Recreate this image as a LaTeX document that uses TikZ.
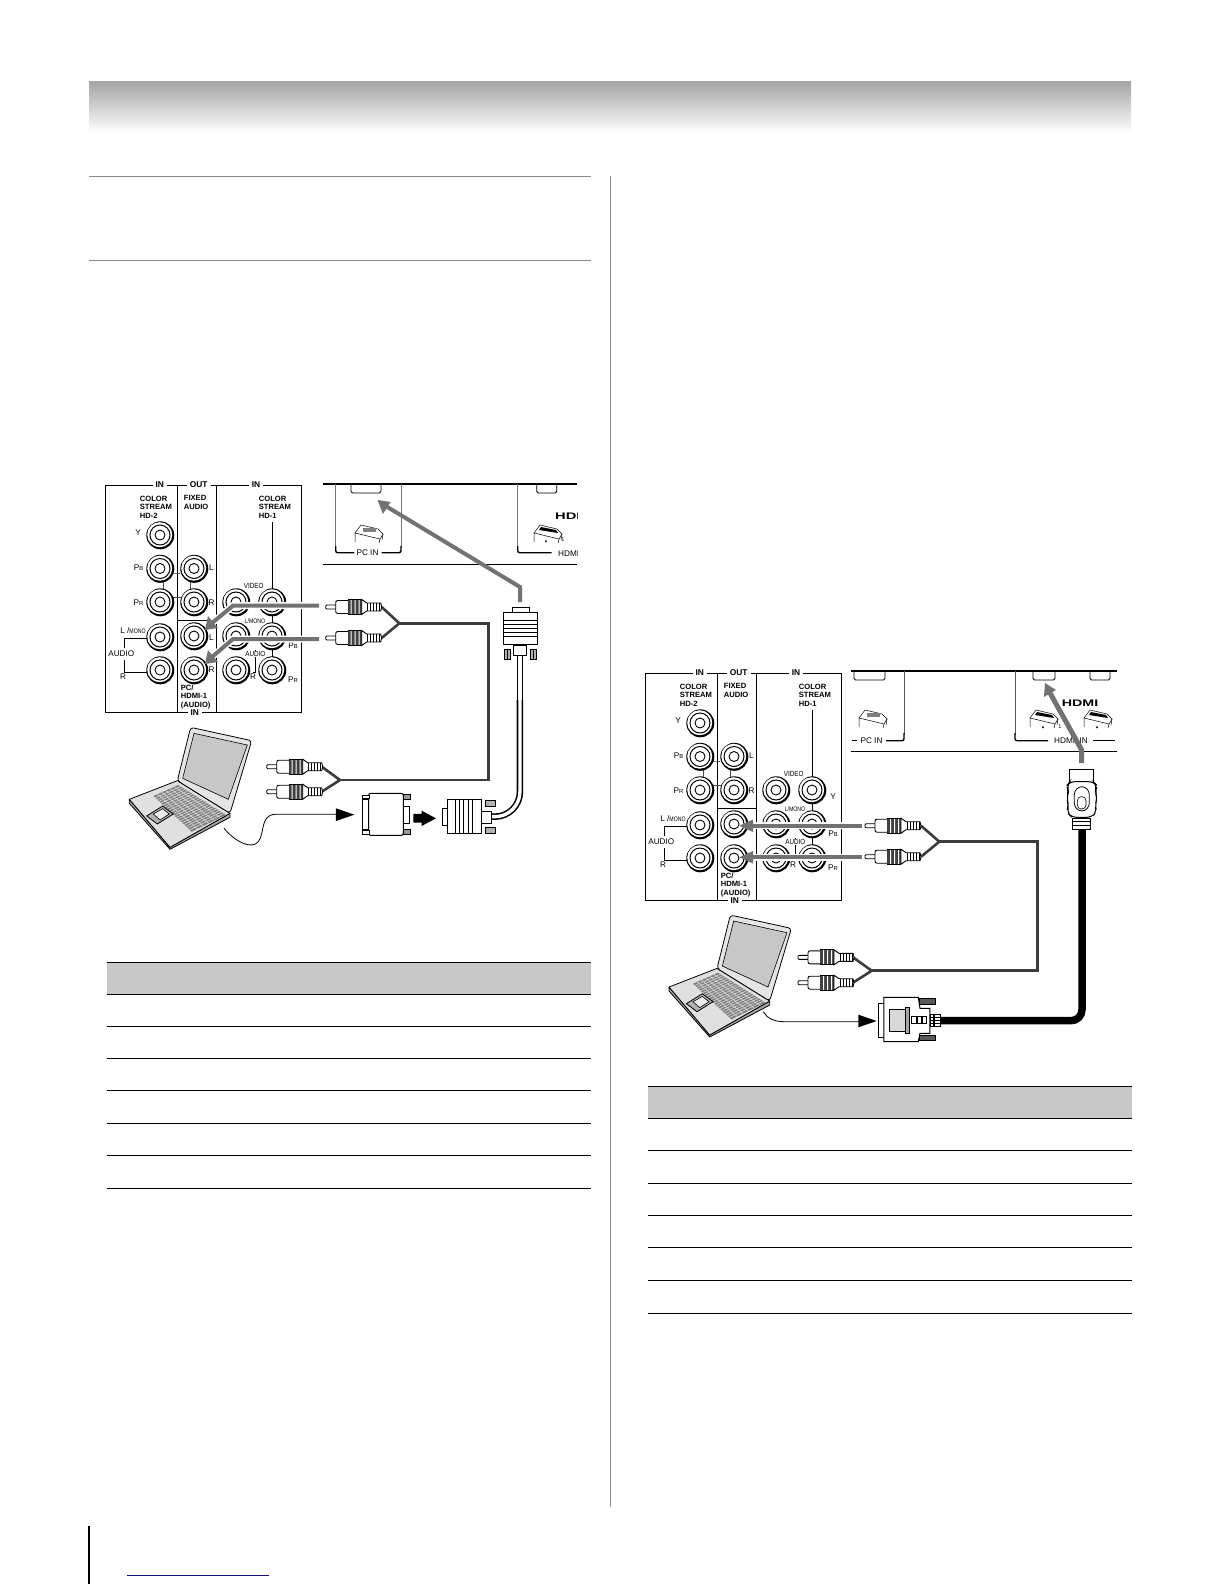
\documentclass[tikz,border=0pt]{standalone}
\usepackage{amssymb}
\usepackage{fontspec}
\setmainfont{Liberation Sans}
\usetikzlibrary{calc}
\definecolor{hdr}{HTML}{A6A6A6}
\definecolor{rulegray}{HTML}{8A8A8A}
\definecolor{headfill}{HTML}{C8C8C8}
\definecolor{arrowgray}{HTML}{727272}
\definecolor{wire}{HTML}{3C3C3C}
\definecolor{botblue}{HTML}{101080}
\tikzset{
  lab/.style={inner sep=0pt,font=\fontsize{8.2}{9}\selectfont},
  blab/.style={inner sep=0pt,align=left,anchor=north west,font=\fontsize{7.6}{8.6}\selectfont\bfseries},
  gaplab/.style={fill=white,inner xsep=3pt,inner ysep=0.5pt,font=\fontsize{8.4}{9}\selectfont\bfseries},
  ruleline/.style={draw=rulegray,line width=1pt},
  tabline/.style={draw=black,line width=1pt},
  garrowbg/.style={draw=white,line width=7pt},
  garrow/.style={draw=arrowgray,line width=4pt},
  ghead/.style={fill=arrowgray},
  wireline/.style={draw=wire,line width=2.6pt,line join=miter},
}
\newcommand{\PbL}{P{\fontsize{5.8}{6}\selectfont B}}
\newcommand{\PrL}{P{\fontsize{5.8}{6}\selectfont R}}
\newcommand{\jack}[2]{\begin{scope}[shift={(#1,#2)}]
  \fill[black] (0.3,0.3) circle[radius=14pt];
  \fill[white] (-0.27,-0.27) circle[radius=12.5pt];
  \draw[line width=1pt] (0,0) circle[radius=10pt];
  \draw[line width=0.9pt] (0,0) circle[radius=5pt];
\end{scope}}
% connector panel, origin = top-left corner of its frame
\newcommand{\panel}[4]{\begin{scope}[shift={(#1,#2)}]
  \draw[line width=0.9pt] (0,0) rectangle (196.5,227.5);
  \draw[line width=0.9pt] (72,0) -- (72,227.5) (111,0) -- (111,227.5) (72,135) -- (111,135);
  % links
  \draw[line width=0.5pt,draw=black!70] (58,96) -- (58,105) (85,96) -- (85,105) -- (92,105)
     (68,88) -- (72,88) -- (75,88) (68,112) -- (76,112);
  \draw[line width=0.7pt] (167,37) -- (167,104) (167,130) -- (167,138) (167,165) -- (167,172)
     (150,165) -- (150,176) (148,187) -- (150,187) -- (150,176);
  \jack{55}{50}\jack{55}{83.5}\jack{55}{117}\jack{55}{152}\jack{55}{185}
  \jack{89}{83.5}\jack{89}{117}\jack{89}{151}\jack{89}{185}
  \jack{131}{117}\jack{167}{117}\jack{131}{151}\jack{167}{151}\jack{131}{185}\jack{167}{185}
  \draw[line width=0.7pt] (42,153) -- (19,153) -- (19,163) (19,175) -- (19,187) -- (42,187);
  \node[gaplab] (#3t1) at (54.7,0) {IN};
  \node[gaplab] (#3t2) at (93.7,0) {OUT};
  \node[gaplab] (#3t3) at (151,0) {IN};
  \node[gaplab] (#3t4) at (89.7,228) {IN};
  \node[blab] (#3a) at (34.7,10.5) {COLOR\\STREAM\\HD-2};
  \node[blab] (#3b) at (78.7,10.5) {FIXED\\AUDIO};
  \node[blab] (#3c) at (153.7,10.5) {COLOR\\STREAM\\HD-1};
  \node[blab] (#3d) at (75.7,199.5) {PC/\\HDMI-1\\(AUDIO)};
  \node[lab] (#3e) at (33,48) {Y};
  \node[lab] (#3f) at (33.5,83) {\PbL};
  \node[lab] (#3g) at (33.5,118) {\PrL};
  \node[lab] (#3h) at (28,146) {L /\scalebox{0.8}[1]{\fontsize{6.5}{7}\selectfont MONO}};
  \node[lab] (#3i) at (16.3,169) {AUDIO};
  \node[lab] (#3j) at (18,192) {R};
  \node[lab] (#3k) at (106.5,83) {L};
  \node[lab] (#3l) at (106.5,118) {R};
  \node[lab] (#3m) at (106.5,153) {L};
  \node[lab] (#3n) at (106.5,185) {R};
  \node[lab,fill=white,inner sep=0.5pt] (#3o) at (148.7,100.7) {\scalebox{0.85}[1]{\fontsize{7.4}{8}\selectfont VIDEO}};
  \node[lab,fill=white,inner sep=0.5pt] (#3p) at (150,135.7) {\scalebox{0.8}[1]{\fontsize{6.5}{7}\selectfont L/MONO}};
  \node[lab,fill=white,inner sep=0.5pt] (#3q) at (150.3,169) {\scalebox{0.85}[1]{\fontsize{7.4}{8}\selectfont AUDIO}};
  \node[lab] (#3r) at (148,192) {R};
  \node[lab] (#3s) at (188,161) {\PbL};
  \node[lab] (#3u) at (188,195) {\PrL};
  #4
\end{scope}}
% RCA plug, tip at the origin, tail at x=56
\newcommand{\rca}[2]{\begin{scope}[shift={(#1,#2)}]
  \draw[line width=0.9pt,fill=white,rounded corners=1pt] (0,-2) rectangle (11,2);
  \draw[line width=0.9pt,fill=white,rounded corners=2pt] (10,-6.5) rectangle (24,6.5);
  \fill[black!75] (22,-7.5) rectangle (36,7.5);
  \fill[white] (25,-7.5) rectangle (26,7.5) (29,-7.5) rectangle (30,7.5) (33,-7.5) rectangle (34,7.5);
  \draw[line width=0.9pt] (22,-7.5) -- (36,-7.5) (22,7.5) -- (36,7.5);
  \draw[line width=0.9pt,fill=white] (36,-7.5) -- (41,-4) -- (55,-4) -- (56,0) -- (55,4) -- (41,4) -- (36,7.5) -- cycle;
  \foreach \k in {42,45,48,51,54} \draw[line width=0.8pt] (\k,-4) -- (\k,4);
\end{scope}}
% laptop in 3x-zoom coordinates
\newcommand{\laptop}[2]{\begin{scope}[shift={(#1,#2)},scale=0.3333]
  \draw[line width=0.8pt,fill=black!35,line join=round] (28,268) -- (28,280) -- (150,418) -- (330,322) -- (330,310) -- (150,412) -- cycle;
  \draw[line width=0.8pt,fill=black!12,line join=round] (28,268) -- (172,212) -- (330,310) -- (150,412) -- cycle;
  \draw[line width=0.8pt,fill=black!10,line join=round,rounded corners=3pt] (172,212) -- (212,52) -- (395,92) -- (330,310) -- cycle;
  \draw[line width=0.6pt,fill=black!22] (222,70) -- (382,105) -- (325,268) -- (188,205) -- cycle;
  \coordinate (k1) at (100,258); \coordinate (k2) at (175,225); \coordinate (k3) at (318,315); \coordinate (k4) at (215,365);
  \fill[black!50] (k1) -- (k2) -- (k3) -- (k4) -- cycle;
  \foreach \t in {0.17,0.34,0.5,0.67,0.84} \draw[white!85!black,line width=0.6pt] ($(k1)!\t!(k2)$) -- ($(k4)!\t!(k3)$);
  \foreach \t in {0.05,0.1,...,0.96} \draw[white!85!black,line width=0.6pt] ($(k1)!\t!(k4)$) -- ($(k2)!\t!(k3)$);
  \draw[line width=0.8pt,fill=black!30] (80,318) -- (128,288) -- (160,312) -- (112,342) -- cycle;
  \draw[line width=0.6pt,fill=black!8] (100,312) -- (128,296) -- (148,312) -- (120,330) -- cycle;
\end{scope}}
% port icon
\newcommand{\porticon}[3]{\begin{scope}[shift={(#1,#2)}]
  \draw[line width=0.5pt,fill=white] (-13,0) -- (-7,-8) -- (10,-4) -- (15,1) -- (12,6) -- cycle;
  \draw[line width=0.5pt] (-13,0) -- (-13,9) (12,6) -- (11,10) (15,1) -- (14,7);
  #3
\end{scope}}
\begin{document}
\begin{tikzpicture}[x=1pt,y=-1pt]
\useasboundingbox (0,0) rectangle (1224,1584);
% page header band
\shade[top color=hdr,bottom color=white] (89,82) rectangle (1131,133);
% rules
\draw[ruleline] (89,176) -- (591,176);
\draw[ruleline] (89,260) -- (591,260);
\draw[draw=rulegray,line width=1pt] (610,176) -- (610,1507);
\draw[line width=1.1pt] (89,1526) -- (89,1584);
\draw[draw=botblue,line width=1pt] (127,1575) -- (269,1575);
% tables
\fill[headfill] (107,962) rectangle (591,994);
\foreach \y in {962,994,1026.3,1058.6,1090.9,1123.2,1155.5,1188} \draw[tabline] (107,\y) -- (591,\y);
\fill[headfill] (648,1086) rectangle (1132,1118);
\foreach \y in {1086,1118,1150.6,1183,1215,1247.6,1280,1313} \draw[tabline] (648,\y) -- (1132,\y);

% ---------- LEFT DIAGRAM ----------
\panel{105}{485}{pa}{}
% tv rear strip
\draw[line width=1.2pt] (323,484) -- (577,484);
\draw[line width=0.8pt] (323,564.3) -- (577,564.3);
\draw[draw=black!55,line width=0.7pt] (335.7,484) -- (335.7,548) (401,484) -- (401,548) (517.7,484) -- (517.7,548);
\draw[line width=1.4pt,rounded corners=2pt] (335.7,546) -- (335.7,552.7) -- (354.3,552.7);
\draw[line width=1.4pt,rounded corners=2pt] (381.7,552.7) -- (401,552.7) -- (401,546);
\draw[line width=1.4pt,rounded corners=2pt] (517.7,546) -- (517.7,552.7) -- (551.7,552.7);
\draw[line width=0.9pt,rounded corners=1.5pt] (351,484) -- (351,493) -- (381,493) -- (381,484);
\draw[line width=0.9pt,rounded corners=1.5pt] (536.7,484) -- (536.7,493) -- (556.7,493) -- (556.7,484);
\node[lab] (pcinA) at (367.5,553) {PC IN};
\porticon{368}{533}{\fill[black!50] (-5,-5) rectangle (8,-1);}
\porticon{547}{533}{\fill[black] (-6,-6) -- (9,-3) -- (11,0) -- (-8,-3) -- cycle;}
\node[inner sep=0pt,font=\fontsize{4}{5}\selectfont] (triA) at (546,541) {$\blacktriangle$};
\node[lab] (oneA) at (563,540) {\fontsize{5.5}{6}\selectfont 1};
\begin{scope}
  \clip (520,500) rectangle (577,570);
  \node[inner sep=0pt,anchor=west] (hdA) at (555,516) {\scalebox{1.55}[1]{\fontsize{9.5}{10}\selectfont\bfseries HDMI}};
  \node[lab,anchor=west] (hdmA) at (558,553.5) {HDMI IN};
\end{scope}
% gray arrow to PC IN
\coordinate (a1s) at (520,602); \coordinate (a1m) at (520,587); \coordinate (a1e) at (384,505);
\draw[garrow] (a1s) -- (a1m) -- (a1e);
\fill[ghead] (377.5,500) -- (390.5,502) -- (383,514) -- cycle;
% audio arrows
\coordinate (a2s) at (319,605.7); \coordinate (a2m) at (233,605.7); \coordinate (a2e) at (212,623);
\coordinate (a3s) at (319,639); \coordinate (a3m) at (233,639); \coordinate (a3e) at (212,657);
\draw[garrowbg] (a2s) -- (a2m) -- (a2e); \draw[garrowbg] (a3s) -- (a3m) -- (a3e);
\draw[garrow] (a2s) -- (a2m) -- (a2e); \draw[garrow] (a3s) -- (a3m) -- (a3e);
\fill[ghead] (205,630) -- (208,616) -- (218,628) -- cycle;
\fill[ghead] (205,664) -- (208,650) -- (218,662) -- cycle;
% audio wire
\coordinate (j1) at (399.3,623.3); \coordinate (c1) at (488.5,623.3); \coordinate (c2) at (488.5,780); \coordinate (j2) at (340,780);
\draw[wireline] (381.7,607) -- (j1) -- (381.7,638);
\draw[wireline] (j1) -- (c1) -- (c2) -- (j2);
\draw[wireline] (321.7,766.7) -- (j2) -- (321.7,791.7);
\rca{325.7}{607}\rca{325.7}{638}
\rca{266.7}{766.7}\rca{266.7}{791.7}
% VGA vertical connector and cable
\begin{scope}[shift={(310,470)},scale=0.3333]
  \draw[line width=6.5pt] (630,555) -- (630,960);
  \draw[draw=white,line width=3.4pt] (630,555) -- (630,960);
  \draw[line width=0.9pt,fill=white] (607,427) -- (607,412) -- (657,412) -- (657,427);
  \draw[line width=1pt,fill=white] (580,427) rectangle (682,525);
  \foreach \y in {450,462,474,486,498} \draw[line width=0.6pt] (580,\y) -- (682,\y);
  \draw[line width=0.9pt,fill=white] (610,525) rectangle (650,555);
  \draw[line width=0.7pt,fill=black!30] (583,537) rectangle (602,567);
  \draw[line width=0.7pt,fill=black!30] (660,537) rectangle (680,567);
  \draw[line width=0.6pt] (592,537) -- (592,567) (670,537) -- (670,567);
\end{scope}
% laptop and lower left row
\laptop{120}{710}
\begin{scope}[shift={(120,710)},scale=0.3333]
  \draw[line width=0.8pt] (312,355) .. controls (345,395) and (395,420) .. (415,395)
      .. controls (435,370) and (420,315) .. (465,313) -- (650,313);
  \fill (648,295) -- (703,314) -- (648,333) -- cycle;
  % adapter
  \draw[line width=0.9pt,fill=white] (728,268) rectangle (746,358);
  \draw[line width=0.8pt,fill=black!40] (848,252) rectangle (872,268);
  \draw[line width=0.8pt,fill=black!40] (848,358) rectangle (872,372);
  \draw[line width=0.8pt,fill=white] (848,290) rectangle (868,340);
  \draw[line width=1pt,fill=white,rounded corners=2pt] (746,250) rectangle (850,376);
  \draw[line width=0.8pt,fill=white] (728,255) rectangle (748,266);
  \draw[line width=0.8pt,fill=white] (728,362) rectangle (748,373);
  % bold arrow
  \fill (880,312) -- (905,312) -- (905,302) -- (948,325) -- (905,348) -- (905,338) -- (880,338) -- cycle;
  % VGA horizontal
  \draw[line width=6.5pt,rounded corners=25pt] (1110,320) -- (1200,320) -- (1200,-30);
  \draw[draw=white,line width=3.4pt,rounded corners=25pt] (1110,320) -- (1200,320) -- (1200,-30);
  \draw[line width=0.9pt,fill=white] (968,295) rectangle (984,345);
  \draw[line width=1pt,fill=white] (982,270) rectangle (1085,372);
  \foreach \x in {1005,1018,1031,1044,1057} \draw[line width=0.6pt] (\x,270) -- (\x,372);
  \draw[line width=0.9pt,fill=white] (1085,305) rectangle (1115,340);
  \draw[line width=0.7pt,fill=black!30] (1095,270) rectangle (1125,290);
  \draw[line width=0.7pt,fill=black!30] (1095,352) rectangle (1125,370);
\end{scope}

% ---------- RIGHT DIAGRAM ----------
\panel{645}{673}{pb}{\node[lab] (pbY) at (188,124) {Y};}
\draw[line width=1.6pt] (851,670.7) -- (1117,670.7);
\draw[line width=0.8pt] (851,751) -- (1117,751);
\draw[line width=0.9pt,rounded corners=1.5pt] (854,671) -- (854,680) -- (885,680) -- (885,671);
\draw[line width=0.9pt,rounded corners=1.5pt] (1033,671) -- (1033,680) -- (1055,680) -- (1055,671);
\draw[line width=0.9pt,rounded corners=1.5pt] (1090,671) -- (1090,680) -- (1110,680) -- (1110,671);
\draw[draw=black!65,line width=0.7pt] (904,671) -- (904,735) (1015,671) -- (1015,735);
\draw[line width=1.4pt,rounded corners=2pt] (851.7,740.7) -- (856.7,740.7);
\draw[line width=1.4pt,rounded corners=2pt] (886,740.7) -- (904,740.7) -- (904,733);
\draw[line width=1.4pt,rounded corners=2pt] (1015,733) -- (1015,740.7) -- (1048,740.7);
\draw[line width=1.4pt] (1093,740.7) -- (1115,740.7);
\node[lab] (pcinB) at (871.5,740.5) {PC IN};
\node[lab] (hdmB) at (1071,740.5) {HDMI\ \ IN};
\node[inner sep=0pt] (hdB) at (1080,703) {\scalebox{1.5}[1]{\fontsize{9.5}{10}\selectfont\bfseries HDMI}};
\porticon{872}{718}{\fill[black!50] (-5,-5) rectangle (8,-1);}
\porticon{1043}{718}{\fill[black] (-6,-6) -- (9,-3) -- (11,0) -- (-8,-3) -- cycle;}
\porticon{1097}{718}{\fill[black] (-6,-6) -- (9,-3) -- (11,0) -- (-8,-3) -- cycle;}
\node[inner sep=0pt,font=\fontsize{4}{5}\selectfont] (triB) at (1043,727) {$\blacktriangle$};
\node[inner sep=0pt,font=\fontsize{4}{5}\selectfont] (triC) at (1097,727) {$\blacktriangle$};
\node[lab] (oneB) at (1060,727) {\fontsize{5.5}{6}\selectfont 1};
% gray HDMI arrow
\coordinate (b1s) at (1081.7,763); \coordinate (b1m) at (1081.7,750); \coordinate (b1e) at (1050,693);
\draw[draw=arrowgray,line width=5pt] (b1s) -- (b1m) -- (b1e);
\fill[ghead] (1045,683) -- (1056,690) -- (1044,697) -- cycle;
% audio arrows
\coordinate (b2s) at (861.7,825.7); \coordinate (b2e) at (750,825.7);
\coordinate (b3s) at (861.7,857.3); \coordinate (b3e) at (750,857.3);
\draw[garrowbg] (b2s) -- (b2e); \draw[garrowbg] (b3s) -- (b3e);
\draw[garrow] (b2s) -- (b2e); \draw[garrow] (b3s) -- (b3e);
\fill[ghead] (739.3,825.7) -- (753,819.5) -- (753,832) -- cycle;
\fill[ghead] (739.3,857.3) -- (753,851) -- (753,863.5) -- cycle;
% audio wire
\coordinate (j3) at (939.3,841.7); \coordinate (c3) at (1037.7,841.7); \coordinate (c4) at (1037.7,970.7); \coordinate (j4) at (871.7,970.7);
\draw[wireline] (921,825.7) -- (j3) -- (921,856.7);
\draw[wireline] (j3) -- (c3) -- (c4) -- (j4);
\draw[wireline] (853,957.3) -- (j4) -- (853,982.7);
\rca{865}{825.7}\rca{865}{856.7}
\rca{798}{957.3}\rca{798}{982.7}
% HDMI cable and plug
\coordinate (hc1) at (1082,825); \coordinate (hc2) at (1082,1020.7); \coordinate (hc3) at (935,1020.7);
\draw[line width=7.5pt,rounded corners=11pt] (hc1) -- (hc2) -- (hc3);
\begin{scope}[shift={(840,655)},scale=0.3333]
  \draw[line width=1pt,fill=white] (690,345) rectangle (760,385);
  \draw[line width=1pt,fill=white,rounded corners=5pt] (690,380) -- (760,380) -- (772,392) -- (765,410) -- (772,430) -- (765,450) -- (770,470) -- (755,487) -- (695,487) -- (680,470) -- (686,450) -- (680,430) -- (686,410) -- (680,392) -- cycle;
  \draw[line width=0.8pt,fill=white,rounded corners=8pt] (703,395) rectangle (748,468);
  \draw[line width=0.6pt,fill=white,rounded corners=4pt] (712,425) rectangle (738,462);
  \draw[line width=0.9pt,fill=white] (698,490) rectangle (752,522);
  \draw[line width=0.6pt] (698,500) -- (752,500) (698,510) -- (752,510);
\end{scope}
% laptop and DVI
\laptop{659.7}{897.7}
\begin{scope}[shift={(650,900)},scale=0.3333]
  \draw[line width=0.8pt] (340,335) .. controls (350,355) and (375,365) .. (400,365) -- (630,365);
  \fill (625,344) -- (680,363) -- (625,382) -- cycle;
  \draw[line width=0.9pt,fill=white] (685,310) rectangle (702,412);
  \draw[line width=0.8pt,fill=black!65] (808,295) rectangle (855,312);
  \draw[line width=0.8pt,fill=black!65] (808,405) rectangle (855,422);
  \draw[line width=1pt,fill=white] (702,292) -- (805,292) -- (810,325) -- (840,325) -- (840,400) -- (810,400) -- (805,425) -- (702,425) -- cycle;
  \draw[line width=0.6pt,fill=black!15] (718,328) rectangle (765,395);
  \draw[line width=0.7pt,fill=black!35] (765,322) rectangle (778,400);
  \draw[line width=0.7pt,fill=white] (785,350) rectangle (798,370) (801,350) rectangle (814,370) (817,350) rectangle (830,370);
  \draw[line width=0.7pt,fill=white] (842,342) rectangle (870,380);
  \fill (850,342) rectangle (856,380);
  \draw[line width=0.5pt] (842,352) -- (870,352) (842,361) -- (870,361) (842,370) -- (870,370);
\end{scope}
\end{tikzpicture}
\end{document}
